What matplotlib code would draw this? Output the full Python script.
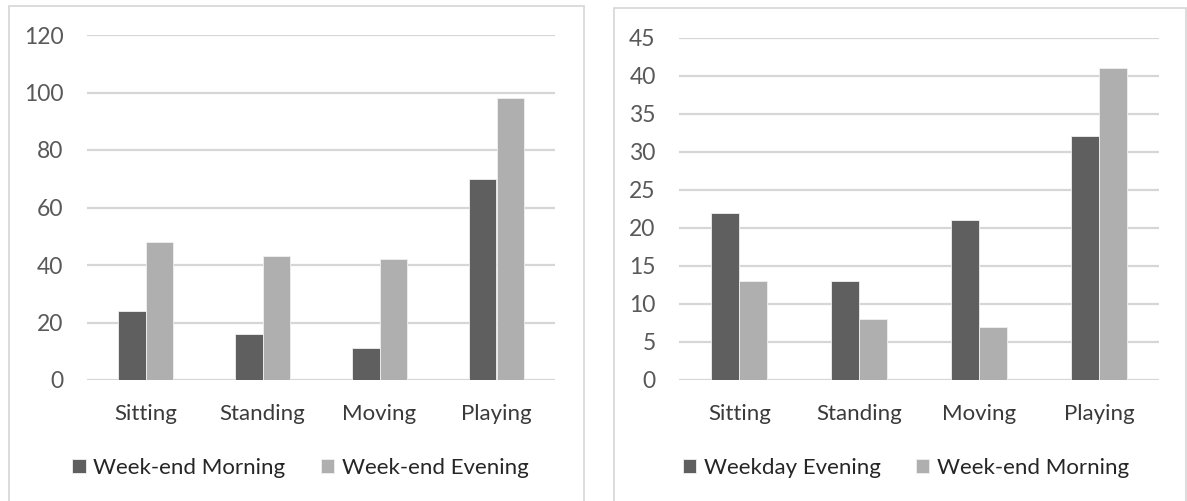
import matplotlib
matplotlib.use("Agg")
import matplotlib.pyplot as plt
from matplotlib.patches import Rectangle
import numpy as np

plt.rcParams['font.family'] = ['Lato', 'DejaVu Sans']

categories = ["Sitting", "Standing", "Moving", "Playing"]

left_series = ["Week-end Morning", "Week-end Evening"]
left_morning = [24, 16, 11, 70]
left_evening = [48, 43, 42, 98]
left_ticks = [0, 20, 40, 60, 80, 100, 120]

right_series = ["Weekday Evening", "Week-end Morning"]
right_weekday_evening = [22, 13, 21, 32]
right_weekend_morning = [13, 8, 7, 41]
right_ticks = [0, 5, 10, 15, 20, 25, 30, 35, 40, 45]

DARK = "#5f5f5f"
LIGHT = "#afafaf"
GRID = "#d6d6d6"
TICK_TXT = "#595959"
LABEL_TXT = "#3a3a3a"

W, H = 1187, 501
fig = plt.figure(figsize=(W / 100, H / 100), dpi=100)
fig.patch.set_facecolor("white")

# chart-area frames
for x0, x1, y0 in [(9, 584, 6), (614, 1186, 8)]:
    fig.add_artist(Rectangle((x0 / W, -0.05), (x1 - x0) / W, (H - y0) / H + 0.05,
                             transform=fig.transFigure, fill=False,
                             edgecolor="#d9d9d9", linewidth=1.3))


def panel(rect, series_names, a, b, ticks, legend_x):
    ax = fig.add_axes(rect)
    x = np.arange(len(categories))
    w = 0.235
    b1 = ax.bar(x - w / 2, a, width=w, color=DARK, edgecolor="#f0f0f0",
                linewidth=0.6, label=series_names[0], zorder=3)
    b2 = ax.bar(x + w / 2, b, width=w, color=LIGHT, edgecolor="#f0f0f0",
                linewidth=0.6, label=series_names[1], zorder=3)
    ax.set_xlim(-0.5, len(categories) - 0.5)
    ax.set_ylim(ticks[0], ticks[-1])
    ax.set_yticks(ticks)
    ax.set_xticks(x)
    ax.set_xticklabels(categories, fontsize=16, color=LABEL_TXT)
    ax.tick_params(axis="y", length=0, pad=17, labelsize=16.5, labelcolor=TICK_TXT)
    ax.tick_params(axis="x", length=0, pad=17)
    ax.yaxis.grid(True, color=GRID, linewidth=1.6, zorder=0)
    ax.set_axisbelow(True)
    for s in ax.spines.values():
        s.set_visible(False)
    fig.legend(handles=[b1, b2], loc="center", bbox_to_anchor=(legend_x, 0.066),
               ncol=2, frameon=False, fontsize=16, handlelength=0.6,
               handleheight=0.6, handletextpad=0.35, columnspacing=1.6,
               labelcolor="#262626")
    return ax


panel([87 / W, (H - 380) / H, (555 - 87) / W, (380 - 35) / H],
      left_series, left_morning, left_evening, left_ticks, 300.5 / W)
panel([679.3 / W, (H - 380) / H, (1159 - 679.3) / W, (380 - 37.5) / H],
      right_series, right_weekday_evening, right_weekend_morning, right_ticks, 906 / W)

fig.savefig("out.png", dpi=100, facecolor="white")
